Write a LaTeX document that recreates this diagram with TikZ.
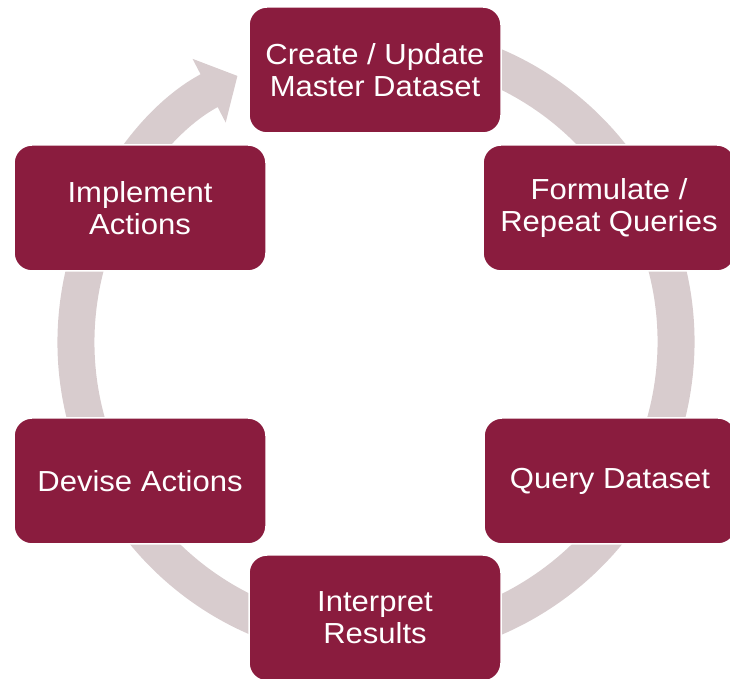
\documentclass[tikz,border=0pt]{standalone}
\usepackage{fontspec}
\setmainfont[FakeStretch=1.07]{Liberation Sans}
\usetikzlibrary{arrows.meta}
\definecolor{maroon}{RGB}{138,28,62}
\definecolor{ringc}{RGB}{216,204,206}
\begin{document}
\begin{tikzpicture}[x=1pt,y=1pt,
  stepbox/.style={draw=white,line width=1.5pt,fill=maroon,rounded corners=18pt,
    minimum width=252pt,minimum height=126pt,text=white,align=center,
    font=\fontsize{29}{32}\selectfont,inner sep=0pt}]
\useasboundingbox (0,0) rectangle (730,679);
\coordinate (c) at (376,337);
\draw[ringc,line width=37pt,-{Triangle[width=70pt,length=32pt]}]
  ([shift={(80:300)}]c) arc[start angle=80,end angle=-242.5,radius=300];
\node[stepbox] (create) at (375,609) {Create / Update\\Master Dataset};
\node[stepbox] (formulate) at (609,471) {Formulate /\\Repeat Queries};
\node[stepbox] (query) at (610,198) {Query Dataset};
\node[stepbox] (interpret) at (375,61) {Interpret\\Results};
\node[stepbox] (devise) at (140,198) {Devise Actions};
\node[stepbox] (implement) at (140,471) {Implement\\Actions};
\end{tikzpicture}
\end{document}
